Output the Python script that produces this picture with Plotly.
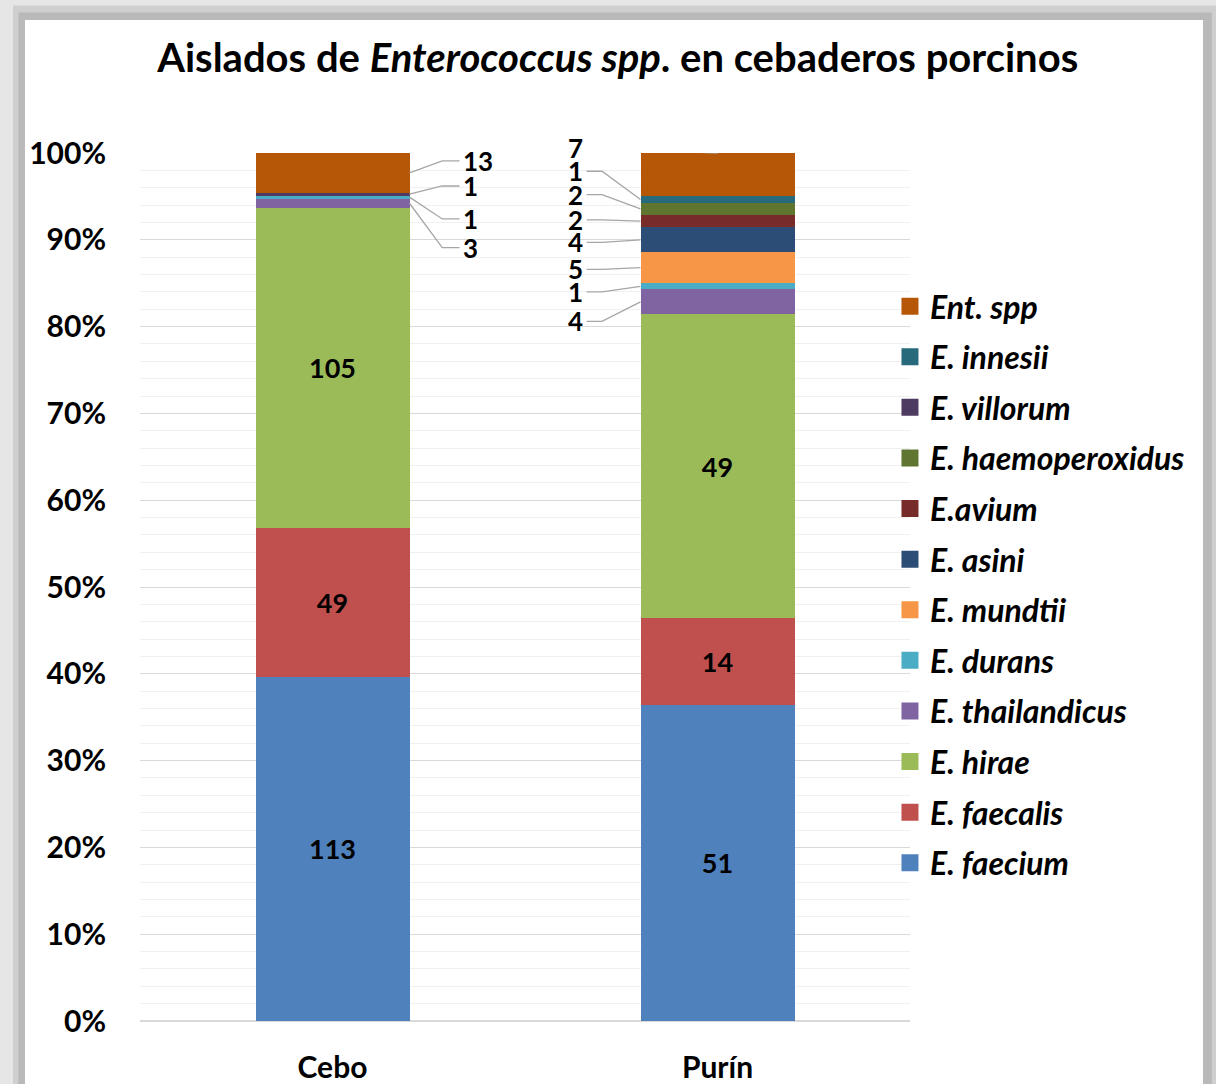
import plotly.graph_objects as go

categories = ["Cebo", "Purín"]
species = ["E. faecium", "E. faecalis", "E. hirae", "E. thailandicus", "E. durans",
           "E. mundtii", "E. asini", "E.avium", "E. haemoperoxidus", "E. villorum",
           "E. innesii", "Ent. spp"]
cebo =  [113, 49, 105, 3, 1, 0, 0, 0, 0, 1, 0, 13]
purin = [51, 14, 49, 4, 1, 5, 4, 2, 2, 0, 1, 7]
colors = ["#4F81BD", "#C0504D", "#9BBB59", "#8064A2", "#4BACC6", "#F79646",
          "#2C4D75", "#772C2A", "#5F7530", "#4D3B62", "#276A7C", "#B65708"]
inside_labelled = ["E. faecium", "E. faecalis", "E. hirae"]

# outside-label layout (y position of each outside label, in % units)
cebo_label_y = {11: 99.1, 9: 96.2, 4: 92.4, 3: 89.1}
purin_label_y = {11: 100.6, 10: 97.9, 8: 95.2, 7: 92.3, 6: 89.7, 5: 86.6, 4: 84.0, 3: 80.6}

FONT = "Lato"
LBL = 27
OUT_LBL = 26
fig = go.Figure()
xs = [0, 1]
for i, name in enumerate(species):
    vals = [cebo[i], purin[i]]
    texts = [f"<b>{v}</b>" if name in inside_labelled else "" for v in vals]
    fig.add_trace(go.Bar(
        x=xs, y=vals, name=name, marker_color=colors[i],
        marker_line_width=0, width=0.4, text=texts, textposition="inside",
        insidetextanchor="middle", textangle=0,
        textfont=dict(family=FONT, size=LBL, color="black"),
        legendgroup="bars_" + name, showlegend=False, hoverinfo="skip"))
# legend entries (empty traces carrying the legend swatch), top entry first
for i in reversed(range(len(species))):
    name = species[i]
    fig.add_trace(go.Bar(
        x=[None], y=[None], name=f"<b><i>{name}</i></b>", marker_color=colors[i],
        marker_line=dict(color=colors[i], width=6), legendgroup="leg_" + name,
        showlegend=True, hoverinfo="skip"))

def cum_mid(vals, idx):
    tot = sum(vals)
    below = sum(vals[:idx])
    return 100 * (below + vals[idx] / 2) / tot

shapes = []
annotations = []
line_style = dict(color="#A6A6A6", width=1.3)
for idx, ly in cebo_label_y.items():
    my = cum_mid(cebo, idx)
    shapes.append(dict(type="path", xref="x", yref="y",
                       path=f"M 0.2,{my} L 0.285,{ly} L 0.33,{ly}", line=line_style))
    annotations.append(dict(x=0.335, y=ly / 100, xref="x", yref="paper",
                            xanchor="left", yanchor="middle",
                            text=f"<b>{cebo[idx]}</b>", showarrow=False,
                            font=dict(family=FONT, size=OUT_LBL, color="black")))
for idx, ly in purin_label_y.items():
    my = cum_mid(purin, idx)
    if idx == 11:
        shapes.append(dict(type="path", xref="x", yref="y",
                           path=f"M 0.66,{ly} L 1.0,100", line=line_style))
    else:
        shapes.append(dict(type="path", xref="x", yref="y",
                           path=f"M 0.66,{ly} L 0.7,{ly} L 0.8,{my}", line=line_style))
    annotations.append(dict(x=0.655, y=ly / 100, xref="x", yref="paper",
                            xanchor="right", yanchor="middle",
                            text=f"<b>{purin[idx]}</b>", showarrow=False,
                            font=dict(family=FONT, size=OUT_LBL, color="black")))

# card background with shadow
bg_shapes = [
    dict(type="rect", xref="paper", yref="paper", x0=-0.165, x1=1.40, y0=-0.09, y1=1.17,
         fillcolor="#cfcfcf", line_width=0, layer="below"),
    dict(type="rect", xref="paper", yref="paper", x0=-0.158, x1=1.392, y0=-0.09, y1=1.162,
         fillcolor="#b9b9b9", line_width=0, layer="below"),
    dict(type="rect", xref="paper", yref="paper", x0=-0.1494, x1=1.3805, y0=-0.09, y1=1.1532,
         fillcolor="white", line_width=0, layer="below"),
]

fig.update_layout(
    barmode="stack", barnorm="percent",
    width=1216, height=1084,
    margin=dict(l=140, r=306, t=153, b=63),
    paper_bgcolor="#e6e6e6", plot_bgcolor="rgba(0,0,0,0)",
    title=dict(text="<b>Aislados de <i>Enterococcus spp</i>. en cebaderos porcinos</b>",
               x=0.508, xref="container", xanchor="center",
               y=1 - 58 / 1084, yref="container", yanchor="middle",
               font=dict(family=FONT, size=40, color="black")),
    xaxis=dict(tickvals=xs, ticktext=[f"<b>{c}</b>" for c in categories],
               range=[-0.5, 1.5], showgrid=False, zeroline=False, showline=False,
               tickfont=dict(family=FONT, size=30, color="black"), ticks="",
               ticklabelstandoff=26, automargin=False),
    yaxis=dict(range=[0, 100], tickfont=dict(family=FONT, size=30, color="black"),
               gridcolor="#D9D9D9", gridwidth=1.3, zeroline=True, zerolinecolor="#D9D9D9",
               zerolinewidth=1.5, showline=False, ticks="", ticklabelstandoff=33,
               automargin=False,
               minor=dict(dtick=2, showgrid=True, gridcolor="#F0F0F0", gridwidth=1.3),
               tickvals=list(range(0, 101, 10)),
               ticktext=[f"<b>{v}%</b>" for v in range(0, 101, 10)]),
    legend=dict(x=0.974, xanchor="left", y=0.855, yanchor="top",
                traceorder="grouped", tracegroupgap=6,
                font=dict(family=FONT, size=32, color="black"),
                bgcolor="rgba(0,0,0,0)", itemwidth=30),
    shapes=bg_shapes + shapes,
    annotations=annotations,
    showlegend=True,
)
fig.write_html("out.html", post_script="document.body.style.margin='0';",
               config={"displayModeBar": False})
